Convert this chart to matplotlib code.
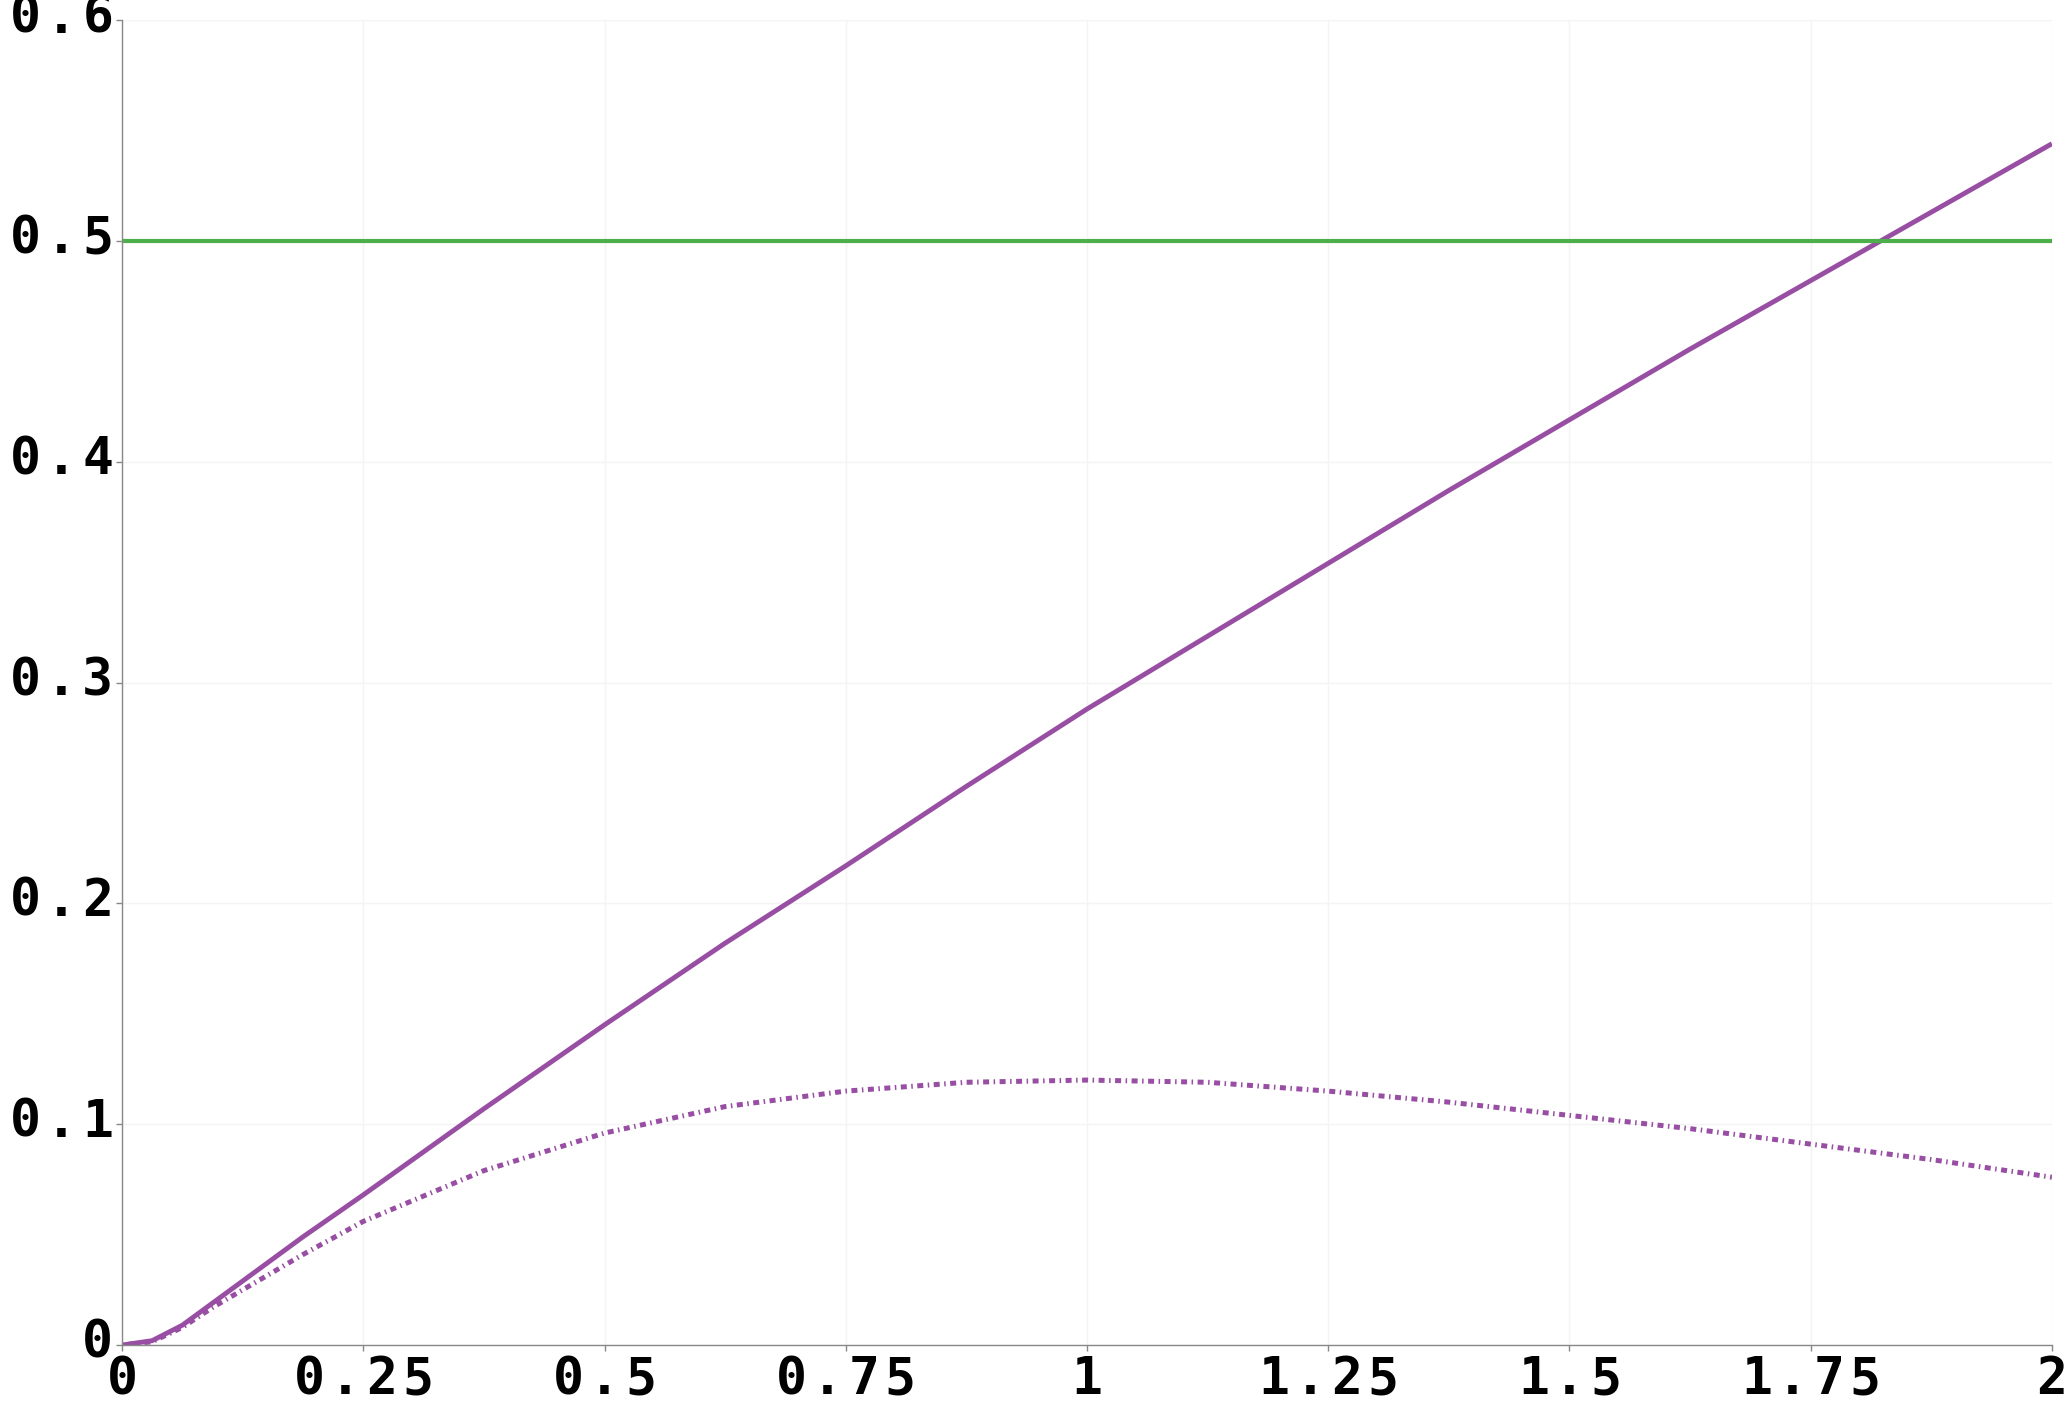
import matplotlib
matplotlib.use("Agg")
import matplotlib.pyplot as plt

# ── data ─────────────────────────────────────────────────────────────────────
X = [0, 0.03125, 0.0625, 0.09375, 0.125, 0.15625, 0.1875, 0.25, 0.375, 0.5,
     0.625, 0.75, 0.875, 1.0, 1.125, 1.25, 1.375, 1.5, 1.625, 1.75, 1.875, 2.0]
SOLID = [0, 0.002, 0.009, 0.019, 0.029, 0.039, 0.049, 0.068, 0.107, 0.145,
         0.182, 0.217, 0.253, 0.288, 0.321, 0.354, 0.387, 0.419, 0.451, 0.482,
         0.513, 0.544]
DOTTED = [0, 0.0015, 0.008, 0.017, 0.025, 0.033, 0.041, 0.056, 0.079, 0.096,
          0.108, 0.115, 0.119, 0.120, 0.119, 0.115, 0.110, 0.104, 0.098, 0.091,
          0.084, 0.076]
LEVEL_X = [0, 2]
LEVEL_Y = [0.5, 0.5]

XTICKS = [0, 0.25, 0.5, 0.75, 1, 1.25, 1.5, 1.75, 2]
XLABELS = ["0", "0.25", "0.5", "0.75", "1", "1.25", "1.5", "1.75", "2"]
YTICKS = [0, 0.1, 0.2, 0.3, 0.4, 0.5, 0.6]
YLABELS = ["0", "0.1", "0.2", "0.3", "0.4", "0.5", "0.6"]

PURPLE = "#984ea3"
GREEN = "#4daf4a"
SPINE = "#888888"

FONT = dict(family="DejaVu Sans Mono", fontweight="bold", fontsize=37,
            color="black")
ADV = 26  # letter advance in points (wide tracking)


def spaced(ax, s, xy, coords, dx0, dy, ha):
    """Draw a label one character at a time with extra letter spacing."""
    n = len(s)
    for i, ch in enumerate(s):
        if ha == "center":
            dx = dx0 + (i - (n - 1) / 2) * ADV
        else:  # right aligned
            dx = dx0 - (n - 1 - i) * ADV
        ax.annotate(ch, xy=xy, xycoords=coords, xytext=(dx, dy),
                    textcoords="offset points", ha="center", va="baseline",
                    annotation_clip=False, **FONT)


fig = plt.figure(figsize=(20.72, 14.22), dpi=100)
ax = fig.add_axes([0.0589, 0.0541, 0.9314, 0.9318])

ax.plot(X, SOLID, color=PURPLE, lw=3.5, solid_capstyle="butt")
ax.plot(X, DOTTED, color=PURPLE, lw=3.6, dashes=(0.3, 0.9, 1.2, 0.9))
ax.plot(LEVEL_X, LEVEL_Y, color=GREEN, lw=3.0)

ax.set_xlim(0, 2)
ax.set_ylim(0, 0.6)
ax.set_xticks(XTICKS)
ax.set_yticks(YTICKS)
ax.set_xticklabels([])
ax.set_yticklabels([])
ax.tick_params(length=4, width=1, color=SPINE, direction="out")
ax.grid(True, color="#f4f4f4", lw=1)
ax.set_axisbelow(True)

for side in ("top", "right"):
    ax.spines[side].set_visible(False)
for side in ("left", "bottom"):
    ax.spines[side].set_color(SPINE)
    ax.spines[side].set_linewidth(1)

for v, s in zip(XTICKS, XLABELS):
    spaced(ax, s, (v, 0), ("data", "axes fraction"), 0, -35.5, "center")
for v, s in zip(YTICKS, YLABELS):
    spaced(ax, s, (0, v), ("axes fraction", "data"), -17.5, -9, "right")

fig.savefig("out.png", dpi=100)
